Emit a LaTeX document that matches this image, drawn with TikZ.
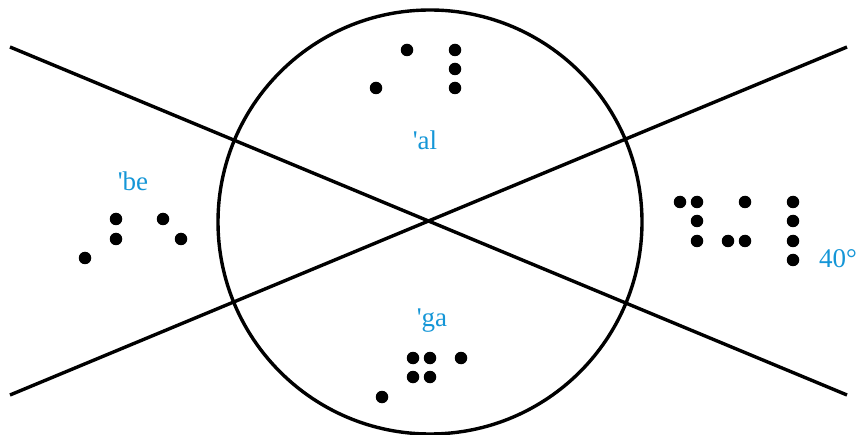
\documentclass[tikz,border=0pt]{standalone}
\usepackage{fontspec}
\newfontfamily\lblfont{Liberation Serif}[Ligatures=TeXOff]
\definecolor{lbl}{RGB}{20,150,215}
\begin{document}
\begin{tikzpicture}[x=1pt,y=-1pt,
  dot/.style={circle,fill=black,inner sep=0pt,minimum size=12.5pt},
  lab/.style={text=lbl,font=\lblfont\fontsize{27}{30}\selectfont,inner sep=0pt},
  ln/.style={line width=3.4pt}]
\useasboundingbox (0,0) rectangle (861,435);
\coordinate (a1) at (10,47);
\coordinate (a2) at (847,395);
\coordinate (b1) at (10,395);
\coordinate (b2) at (847,47);
\draw[ln] (a1) -- (a2);
\draw[ln] (b1) -- (b2);
\node[draw,circle,line width=3.4pt,minimum size=424pt,inner sep=0pt] (c) at (430,222) {};
% top
\foreach \x/\y in {407/50,455/50,455/69,376/88,455/88} \node[dot] at (\x,\y) {};
\node[lab] (al) at (425,140) {'al};
% left
\foreach \x/\y in {116/219,163/219,116/239,181/239,85/258} \node[dot] at (\x,\y) {};
\node[lab] (be) at (133,181) {'be};
% right
\foreach \x/\y in {680/202,697/202,745/202,793/202,697/221,793/221,697/241,728/241,745/241,793/241,793/260} \node[dot] at (\x,\y) {};
\node[lab] (d) at (838,259) {40°};
% bottom
\foreach \x/\y in {413/358,430/358,461/358,413/377,430/377,382/397} \node[dot] at (\x,\y) {};
\node[lab] (ga) at (432,321) {'ga};
\end{tikzpicture}
\end{document}
